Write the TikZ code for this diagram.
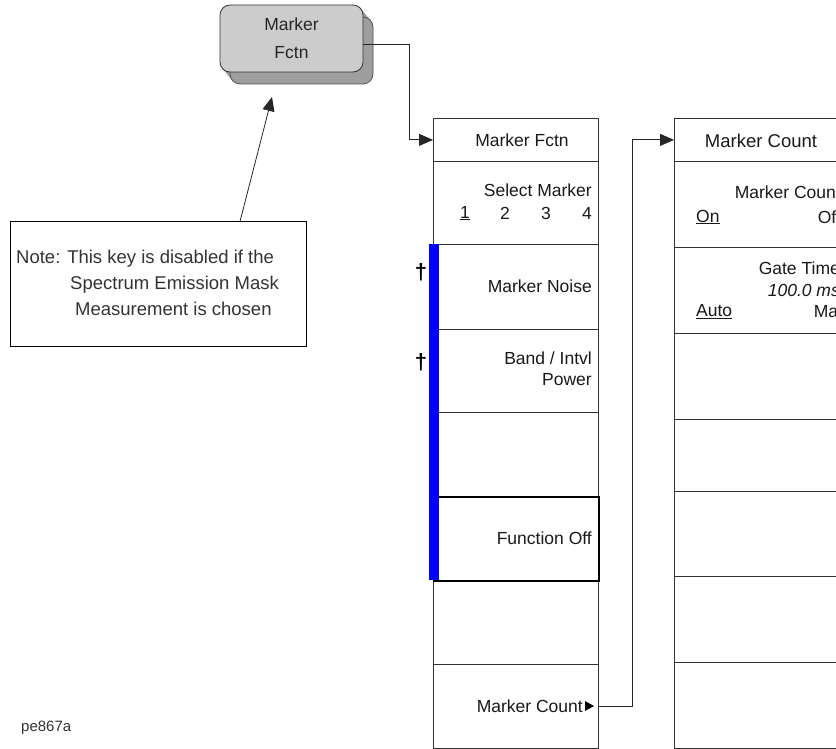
\documentclass[tikz,border=0pt]{standalone}
\usepackage{fontspec}
\setmainfont{Liberation Sans}
\usetikzlibrary{arrows.meta,calc}
\begin{document}
\begin{tikzpicture}[x=1pt,y=-1pt,
  row/.style={draw=black!80, line width=0.8pt, rectangle, minimum width=165pt, inner sep=0pt, anchor=north west},
  lbl/.style={font=\fontsize{17.5}{20}\selectfont, inner sep=0pt, text=black!90},
  notetxt/.style={font=\fontsize{18.5}{20}\selectfont, inner sep=0pt, text=black!80, anchor=west},
  conn/.style={draw=black!85, line width=0.8pt, -{Triangle[length=14pt,width=12pt]}},
]
\useasboundingbox (0,0) rectangle (836,749);
\clip (0,0) rectangle (836,749);

% hard key with extrusion
\foreach \t in {1,2,...,12}{
  \fill[black!38, rounded corners=10pt] ({220+\t*10/12},{5+\t}) rectangle ++(143,67);
}
\draw[black!70, rounded corners=10pt, line width=0.7pt] (230,17) rectangle (373,84);
\node[draw=black!80, line width=0.8pt, rounded corners=10pt, fill=black!20, minimum width=143pt, minimum height=67pt, inner sep=0pt, align=center, lbl, text=black!85] (hk) at (291.5,38.5) {Marker\\[8pt]Fctn};

% menu 1
\node[row, minimum height=43pt] (a0) at (433,118) {};
\node[row, minimum height=83pt] (a1) at (433,161) {};
\node[row, minimum height=85pt] (a2) at (433,244) {};
\node[row, minimum height=83pt] (a3) at (433,329) {};
\node[row, minimum height=84pt] (a4) at (433,412) {};
\node[row, minimum height=84pt] (a6) at (433,580) {};
\node[row, minimum height=84pt] (a7) at (433,664) {};
\node[row, minimum height=84pt, draw=black, line width=2.4pt] (a5) at (433,496) {};
\fill[blue] (429,244) rectangle (439,580);

\node[lbl] (t0) at (522,140) {Marker Fctn};
\node[lbl, anchor=east] (t1) at (592,190) {Select Marker};
\node[lbl] (t1a) at (465,213) {\underline{1}};
\node[lbl] (t1b) at (505,213) {2};
\node[lbl] (t1c) at (546,213) {3};
\node[lbl] (t1d) at (587,213) {4};
\node[lbl, anchor=east] (t2) at (592,286) {Marker Noise};
\node[lbl, anchor=east] (t3a) at (592,358) {Band / Intvl};
\node[lbl, anchor=east] (t3b) at (592,380) {Power};
\node[lbl, anchor=east] (t5) at (592,538) {Function Off};
\node[lbl, anchor=east] (t7) at (583,706) {Marker Count};
\fill[black] (585,701) -- (594,706) -- (585,711) -- cycle;
\node[font=\fontsize{22}{24}\bfseries, inner sep=0pt] (d1) at (421,272) {†};
\node[font=\fontsize{22}{24}\bfseries, inner sep=0pt] (d2) at (421,362) {†};

% menu 2
\node[row, minimum height=43pt] (b0) at (674,118) {};
\node[row, minimum height=86pt] (b1) at (674,161) {};
\node[row, minimum height=86pt] (b2) at (674,247) {};
\node[row, minimum height=86pt] (b3) at (674,333) {};
\node[row, minimum height=72pt] (b4) at (674,419) {};
\node[row, minimum height=85pt] (b5) at (674,491) {};
\node[row, minimum height=86pt] (b6) at (674,576) {};
\node[row, minimum height=86pt] (b7) at (674,662) {};

\node[lbl, font=\fontsize{18.5}{20}\selectfont] (s0) at (761,141) {Marker Count};
\node[lbl, anchor=east] (s1) at (841,192) {Marker Count};
\node[lbl, anchor=west] (s1a) at (696,217) {\underline{On}};
\node[lbl, anchor=east] (s1b) at (841,217) {Off};
\node[lbl, anchor=east] (s2) at (840,268) {Gate Time};
\node[lbl, anchor=east] (s2a) at (840,290) {\itshape 100.0 ms};
\node[lbl, anchor=west] (s2b) at (696,312) {\underline{Auto}};
\node[lbl, anchor=east] (s2c) at (848,312) {Man};

% note
\node[draw=black, line width=1pt, minimum width=296pt, minimum height=124pt, inner sep=0pt] (note) at (158,284) {};
\node[notetxt] (n1) at (16,259) {Note: This key is disabled if the};
\node[notetxt] (n2) at (70,285) {Spectrum Emission Mask};
\node[notetxt] (n3) at (75,309) {Measurement is chosen};
\coordinate (tip) at (272,97);
\draw[conn] ([xshift=82pt]note.north) -- (tip);

% connectors
\draw[conn] ([yshift=-5.5pt]hk.east) -| ($(a0.west)+(-24,0)$) -- (a0.west);
\draw[conn] (a7.east) -| ($(b0.west)+(-42,0)$) -- (b0.west);

\node[font=\fontsize{15}{17}\selectfont, inner sep=0pt, anchor=west, text=black!80] (id) at (21,728) {pe867a};
\end{tikzpicture}
\end{document}
